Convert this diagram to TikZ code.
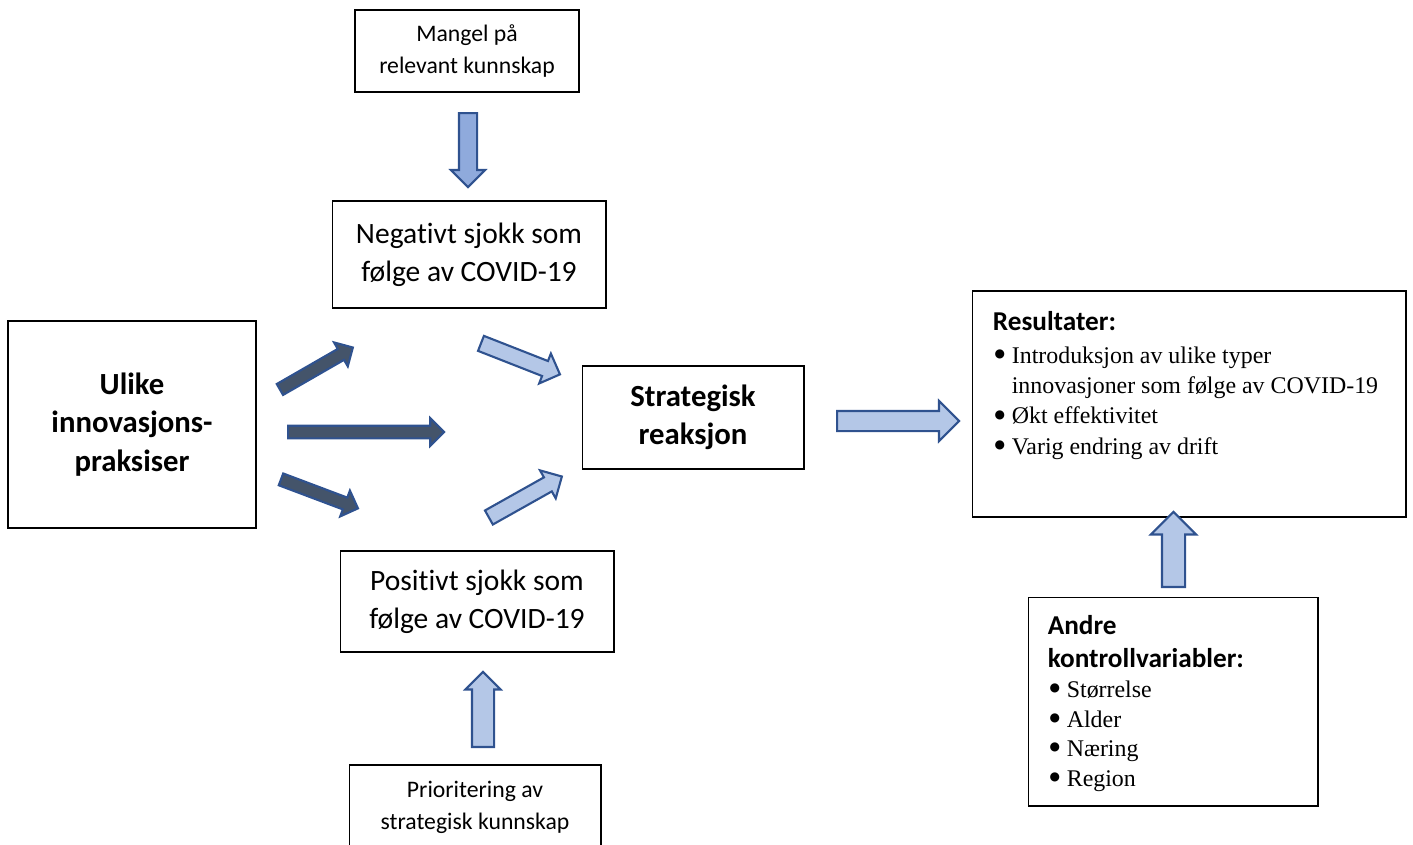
\documentclass[tikz,border=0pt]{standalone}
\usepackage{fontspec}
\setmainfont[RawFeature={-liga;-clig;-calt;-dlig}]{Carlito}
\newfontfamily\timesfont{Liberation Serif}
\newfontfamily\dotfont{DejaVu Sans}
\usetikzlibrary{calc,shapes.arrows}
\definecolor{arrowedge}{HTML}{2F528F}
\definecolor{arrowdark}{HTML}{44546A}
\definecolor{arrowlight}{HTML}{B4C7E7}
\definecolor{arrowmid}{HTML}{8FAADC}
\tikzset{
  box/.style={draw=black, line width=0.6pt, align=center, inner sep=0pt},
  smalltext/.style={font=\fontsize{13.5}{18.2}\selectfont},
  bigtext/.style={font=\fontsize{16.8}{21.5}\selectfont},
  bigbold/.style={font=\bfseries\fontsize{17.5}{21.8}\selectfont},
  listtext/.style={anchor=north west, align=left, inner sep=0pt, font=\timesfont\fontsize{13.6}{#1}\selectfont},
  blockarrow/.style={single arrow, draw=arrowedge, line width=1.2pt, inner xsep=0pt, single arrow tip angle=90},
  arrowsize/.style 2 args={inner ysep=#1, single arrow head extend=#2}
}
\def\blockarrow[#1](#2)(#3){\path let \p1=($(#3)-(#2)$) in node[blockarrow, #1, anchor=tail, rotate={atan2(\y1,\x1)}, minimum height={veclen(\x1,\y1)}] at (#2) {};}
\def\bul{\makebox[10.8pt][l]{\hspace{1pt}\raisebox{3.2pt}{\dotfont\fontsize{6.8}{0}\selectfont ●}}}
\def\heading#1{{\rmfamily\bfseries\fontsize{15.5}{18}\selectfont #1}}

\begin{document}
\begin{tikzpicture}[x=0.02cm, y=-0.02cm]
			%%%%% START %%%%%
			\useasboundingbox (0,0) rectangle (1413,845);
			\clip (0,0) rectangle (1413,845);
			
			% boxes
			\node[box, smalltext, minimum width=4.48cm, minimum height=1.64cm] (mangel) at (467,51) {Mangel på\\relevant kunnskap};
			\node[box, bigtext, minimum width=5.48cm, minimum height=2.14cm] (negativ) at (469,254.5) {Negativt sjokk som\\følge av COVID-19};
			\node[box, bigbold, minimum width=4.96cm, minimum height=4.14cm] (ulike) at (132,424.5) {Ulike\\innovasjons-\\praksiser};
			\node[box, bigbold, minimum width=4.44cm, minimum height=2.06cm] (strategisk) at (693,417.5) {Strategisk\\reaksjon};
			\node[box, bigtext, minimum width=5.48cm, minimum height=2.02cm] (positiv) at (477,601.5) {Positivt sjokk som\\følge av COVID-19};
			\node[box, smalltext, minimum width=5.04cm, minimum height=1.68cm] (prioritering) at (475,807) {Prioritering av\\strategisk kunnskap};
			\node[box, minimum width=8.68cm, minimum height=4.52cm] (resultater) at (1189,404) {};
			\node[box, minimum width=5.80cm, minimum height=4.18cm] (andre) at (1173,701.5) {};
			
			% box texts
			\node[listtext=17.3pt] (restext) at ($(resultater.north west)+(21,21)$) {\heading{Resultater:}\\[1pt]
				\bul Introduksjon av ulike typer\\
				\hspace*{10.8pt}innovasjoner som følge av COVID-19\\
				\bul Økt effektivitet\\
				\bul Varig endring av drift};
			\node[listtext=16.8pt] (andretext) at ($(andre.north west)+(20,19)$) {\heading{Andre}\\[1.6pt]
				\heading{kontrollvariabler:}\\[0.4pt]
				\bul Størrelse\\
				\bul Alder\\
				\bul Næring\\
				\bul Region};
			
			% arrows
			\blockarrow[fill=arrowmid, arrowsize={1.6mm}{1.6mm}](468,112)(468,186);
			
			\blockarrow[fill=arrowdark, arrowsize={1.05mm}{1.5mm}](279,390)(352,348);
			\blockarrow[fill=arrowdark, arrowsize={1.05mm}{1.5mm}](287,432)(443,432);
			\blockarrow[fill=arrowdark, arrowsize={1.05mm}{1.5mm}](280,479)(357,508);
			
			\blockarrow[fill=arrowlight, arrowsize={1.4mm}{1.6mm}](480,343)(559,374);
			\blockarrow[fill=arrowlight, arrowsize={1.4mm}{1.6mm}](488,518)(561,477);
			
			\blockarrow[fill=arrowlight, arrowsize={1.8mm}{2mm}](836,421)(958,421);
			
			\blockarrow[fill=arrowlight, arrowsize={2mm}{1.3mm}](483,748)(483,673);
			\blockarrow[fill=arrowlight, arrowsize={2.1mm}{2.2mm}](1173.5,588)(1173.5,513);
			
			%%%%% END %%%%%
\end{tikzpicture}
\end{document}
